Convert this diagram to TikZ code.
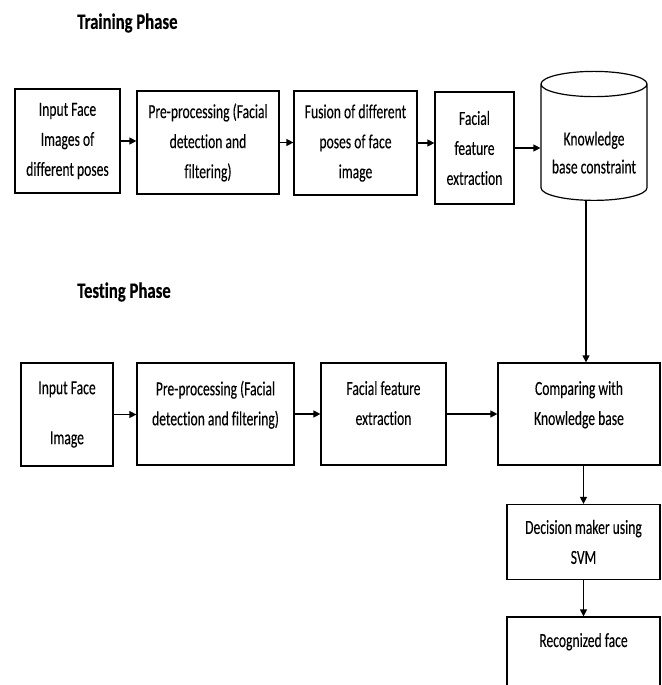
\documentclass[tikz,border=0pt]{standalone}
\usepackage{fontspec}
\setmainfont[FakeStretch=0.68, FakeBold=0.15, Ligatures=NoCommon]{Carlito}
\newfontfamily\phasefont[FakeStretch=0.76, FakeBold=0.3, Ligatures=NoCommon]{Carlito}
\usetikzlibrary{positioning, arrows.meta, shapes.geometric}

\begin{document}
\begin{tikzpicture}[x=1pt, y=-1pt,
    box/.style={draw, line width=1.2pt, align=center, inner sep=0pt, font=\fontsize{20}{30}\selectfont},
    kbcyl/.style={box, shape=cylinder, shape border rotate=90, aspect=0.3},
    flow/.style={-{Triangle[length=7pt,width=7pt]}, line width=1.2pt},
    phase/.style={anchor=west, inner sep=0pt, font=\phasefont\bfseries\fontsize{22}{26}\selectfont}]
  \useasboundingbox (0,0) rectangle (661,685);

  % training phase
  \node[phase] (trn) at (77,23) {Training Phase};
  \node[box, minimum width=105pt, minimum height=104pt] (tin) at (67.5,141) {Input Face\\Images of\\different poses};
  \node[box, minimum width=142pt, minimum height=103pt] (tpre) at (208,142.5) {Pre-processing (Facial\\detection and\\filtering)};
  \node[box, minimum width=123pt, minimum height=104pt] (tfus) at (355.5,143) {Fusion of different\\poses of face\\image};
  \node[box, minimum width=79pt, minimum height=112pt] (tfeat) at (474.5,148) {Facial\\feature\\extraction};
  \node[kbcyl, minimum width=106pt, minimum height=129pt] (kb) at (594,142.5) {\mbox{}\\[4pt]Knowledge\\[-2pt]base constraint};

  \draw[flow] (tin.east) -- (tin.east -| tpre.west);
  \draw[flow] (tpre.east) -- (tpre.east -| tfus.west);
  \draw[flow] (tfus.east) -- (tfus.east -| tfeat.west);
  \draw[flow] (tfeat.east) -- (tfeat.east -| kb.west);

  % testing phase
  \node[phase] (tst) at (77,292) {Testing Phase};
  \node[box, minimum width=92pt, minimum height=103pt] (ein) at (67,414.5) {Input Face\\[20pt]Image};
  \node[box, minimum width=157pt, minimum height=102pt] (epre) at (215.5,414) {Pre-processing (Facial\\detection and filtering)\\[-8pt]\mbox{}};
  \node[box, minimum width=125pt, minimum height=102pt] (efeat) at (383.5,414) {Facial feature\\extraction\\[-8pt]\mbox{}};
  \node[box, minimum width=162pt, minimum height=102pt] (cmp) at (579,414) {Comparing with\\Knowledge base\\[-8pt]\mbox{}};
  \node[box, minimum width=153pt, minimum height=75pt] (dec) at (583.5,542) {Decision maker using\\SVM};
  \node[box, minimum width=153pt, minimum height=100pt] (rec) at (583.5,667) {Recognized face\\~\\[-6pt]\mbox{}};

  \draw[flow] (ein.east) -- (ein.east -| epre.west);
  \draw[flow] (epre.east) -- (epre.east -| efeat.west);
  \draw[flow] (efeat.east) -- (efeat.east -| cmp.west);
  \draw[flow] ([xshift=-8pt]kb.south) -- ([xshift=7pt]cmp.north);
  \draw[flow] (dec.north |- cmp.south) -- (dec.north);
  \draw[flow] (dec) -- (rec);
\end{tikzpicture}
\end{document}
